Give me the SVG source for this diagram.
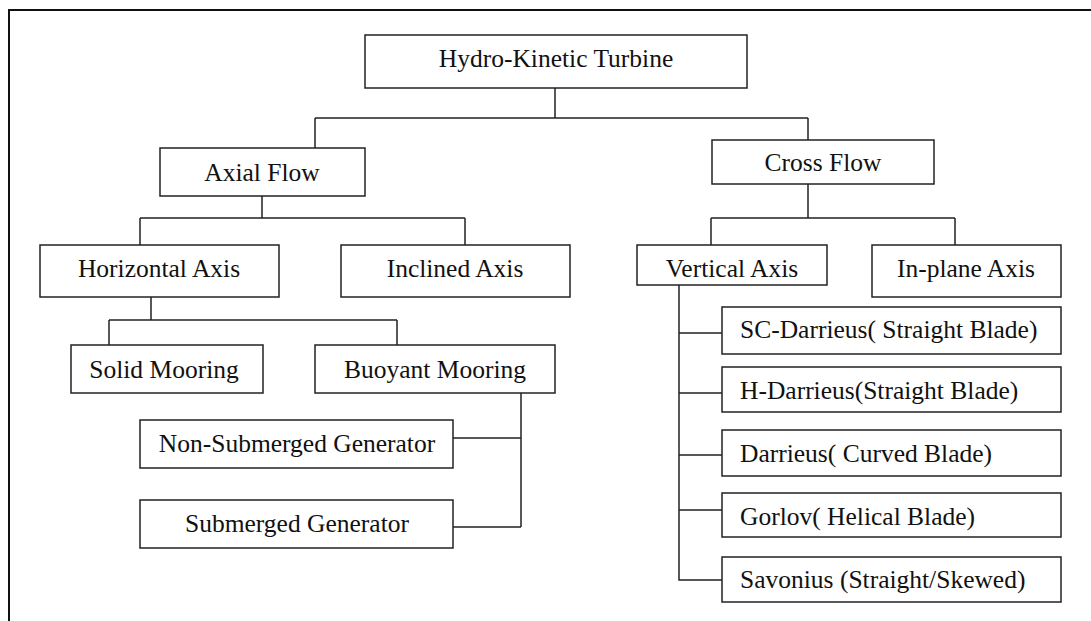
<svg xmlns="http://www.w3.org/2000/svg" width="1091" height="621" viewBox="0 0 1091 621">
<style>
.box{fill:#fff;stroke:#222;stroke-width:1.5}
.t{font-family:"Liberation Serif","Times New Roman",serif;font-size:25.5px;fill:#111}
.c{text-anchor:middle}
.ln{fill:none;stroke:#222;stroke-width:1.5}
</style>
<rect x="0" y="0" width="1091" height="621" fill="#fff"/>
<rect x="9" y="10" width="1200" height="700" fill="none" stroke="#111" stroke-width="2"/>
<g id="connectors" class="ln">
<path d="M555 88V118M315 118H808M315 118V148M808 118V140"/>
<path d="M262 196V218M140 218H465M140 218V245M465 218V245"/>
<path d="M151 297V320M109 320H397M109 320V345M397 320V345"/>
<path d="M521 393V527M453 438H521M453 527H521"/>
<path d="M808 184V218M711 218H955M711 218V245M955 218V245"/>
<path d="M679 285V580H722M679 333H722M679 393H722M679 455H722M679 510H722"/>
</g>
<g id="hkt"><rect class="box" x="365" y="35" width="382" height="53"/><text class="t c" x="556" y="67">Hydro-Kinetic Turbine</text></g>
<g id="axial"><rect class="box" x="160" y="148" width="205" height="48"/><text class="t c" x="262" y="181">Axial Flow</text></g>
<g id="cross"><rect class="box" x="712" y="140" width="222" height="44"/><text class="t c" x="823" y="171">Cross Flow</text></g>
<g id="horizontal"><rect class="box" x="40" y="245" width="239" height="52"/><text class="t c" x="159" y="277">Horizontal Axis</text></g>
<g id="inclined"><rect class="box" x="341" y="245" width="229" height="52"/><text class="t c" x="455" y="277">Inclined Axis</text></g>
<g id="solid"><rect class="box" x="71" y="345" width="192" height="48"/><text class="t c" x="164" y="378">Solid Mooring</text></g>
<g id="buoyant"><rect class="box" x="315" y="345" width="240" height="48"/><text class="t c" x="435" y="378">Buoyant Mooring</text></g>
<g id="nonsub"><rect class="box" x="140" y="420" width="313" height="48"/><text class="t c" x="297" y="452">Non-Submerged Generator</text></g>
<g id="sub"><rect class="box" x="140" y="500" width="313" height="48"/><text class="t c" x="297" y="532">Submerged Generator</text></g>
<g id="vertical"><rect class="box" x="637" y="245" width="190" height="40"/><text class="t c" x="732" y="277">Vertical Axis</text></g>
<g id="inplane"><rect class="box" x="872" y="245" width="189" height="52"/><text class="t c" x="966" y="277">In-plane Axis</text></g>
<g id="scd"><rect class="box" x="722" y="307" width="339" height="47"/><text class="t" x="740" y="338">SC-Darrieus( Straight Blade)</text></g>
<g id="hd"><rect class="box" x="722" y="367" width="339" height="45"/><text class="t" x="740" y="399">H-Darrieus(Straight Blade)</text></g>
<g id="dc"><rect class="box" x="722" y="430" width="339" height="46"/><text class="t" x="740" y="462">Darrieus( Curved Blade)</text></g>
<g id="gorlov"><rect class="box" x="722" y="493" width="339" height="44"/><text class="t" x="740" y="525">Gorlov( Helical Blade)</text></g>
<g id="savonius"><rect class="box" x="722" y="557" width="339" height="45"/><text class="t" x="740" y="588">Savonius (Straight/Skewed)</text></g>
</svg>
